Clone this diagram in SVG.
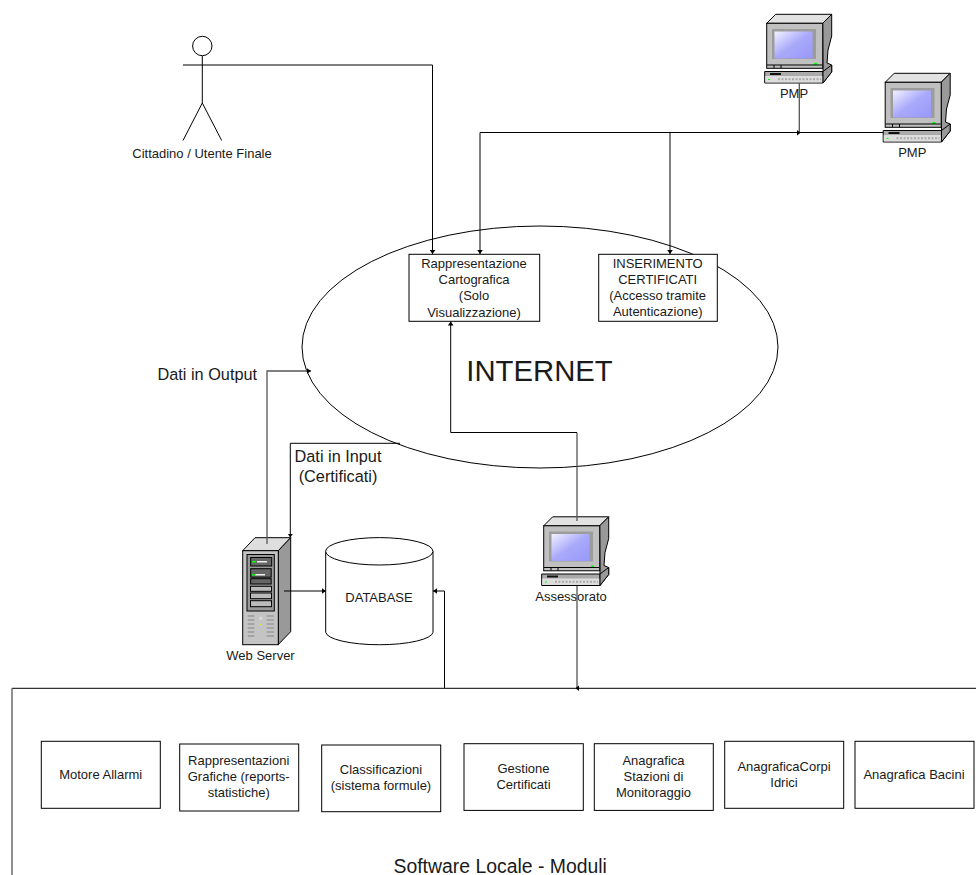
<svg xmlns="http://www.w3.org/2000/svg" width="976" height="875" viewBox="0 0 976 875">
<style>
text{font-family:"Liberation Sans",Arial,sans-serif;fill:#1a1a1a;text-anchor:middle}
.s{font-size:13px}
.m{font-size:16.3px}
.box{fill:#fff;stroke:#000;stroke-width:1}
.c{fill:none;stroke:#000;stroke-width:1}
.g{fill:none;stroke:#555;stroke-width:1.300}
.k{stroke:#000;stroke-width:1}
</style>
<defs>
<marker id="a" markerWidth="6" markerHeight="6" refX="4" refY="3" orient="auto" markerUnits="userSpaceOnUse"><path d="M0 .2L4 3L0 5.800Z" fill="#000"/></marker>
<linearGradient id="scr" x1="0" y1="0" x2="1" y2="1"><stop offset="0" stop-color="#f2f2ff"/><stop offset=".5" stop-color="#a9a9fb"/><stop offset="1" stop-color="#9898fa"/></linearGradient>
<g id="pc">
<path class="k" fill="#e2e2e2" d="M2.7 9.300L11.700 .3H67.700L58.700 9.300Z"/>
<path class="k" fill="#999" d="M58.700 9.300L67.700 .3V22L64 36L63 49L67.700 51V58L59 69V54L58.700 9.300Z"/>
<rect class="k" fill="#c0c0c0" x="2.700" y="9.300" width="56" height="45"/>
<rect x="8" y="15" width="44" height="30" fill="#9c9c9c"/>
<rect x="10.500" y="17.500" width="38" height="27" fill="url(#scr)"/>
<rect x="50" y="49" width="3" height="2" fill="#0f0"/>
<path class="k" fill="none" d="M10 51V54M17 51V54M3 51H58"/>
<path class="k" fill="#aaa" d="M.7 57.500H59V69L.7 69Z"/>
<path class="k" fill="#999" d="M59 57.500L67.700 51V58L59 69Z"/>
<rect x="1.200" y="62" width="57" height="6.500" fill="#ddd"/>
<rect x="6" y="59" width="11" height="2" fill="#111"/>
<rect x="4" y="65" width="2" height="1" fill="#0f0"/>
<path d="M14 65.200H57" stroke="#aaa" stroke-width="2" stroke-dasharray="2 1.500"/>
</g>
</defs>

<g id="internet"><ellipse class="box" cx="540" cy="347" rx="238" ry="121"/><text x="539.500" y="381" font-size="29.300">INTERNET</text></g>

<g id="cittadino">
<circle class="c" cx="202.300" cy="46" r="9.700"/>
<path class="c" d="M202.300 56V103L183 140.500M202.300 103L221.700 140.500"/>
<text class="s" x="202" y="158">Cittadino / Utente Finale</text>
</g>

<g id="pmp1"><use href="#pc" x="764" y="14"/><text class="s" x="794" y="98">PMP</text></g>
<g id="pmp2"><use href="#pc" x="882.500" y="73"/><text class="s" x="912.300" y="157">PMP</text></g>
<g id="assessorato"><use href="#pc" x="541" y="516.500"/><text class="s" x="571" y="601">Assessorato</text></g>

<g id="webserver">
<path class="k" fill="#dedede" d="M242.700 550.700L255 537.700H290.700L278.300 550.700Z"/>
<path class="k" fill="#999" d="M278.300 550.700L290.700 537.700V631.700L278.300 644.500Z"/>
<rect class="k" fill="#c4c4c4" x="242.700" y="550.700" width="35.600" height="94"/>
<rect class="k" fill="#999" x="247" y="554.500" width="27.300" height="56.500"/>
<rect class="k" fill="#666" x="250.700" y="557.500" width="21" height="8.500"/>
<rect class="k" fill="#666" x="250.700" y="568.700" width="20.500" height="8.500"/>
<rect class="k" fill="#666" x="250.700" y="578.700" width="20.500" height="5.300"/>
<rect class="k" fill="#bbb" x="250.500" y="586.300" width="21" height="5"/>
<rect class="k" fill="#bbb" x="250.500" y="593" width="21" height="5.700"/>
<rect class="k" fill="#bbb" x="250.500" y="600.700" width="21" height="6"/>
<rect x="252" y="561" width="4" height="1.500" fill="#0f0"/>
<rect x="252" y="574" width="3" height="1.500" fill="#0f0"/>
<rect x="257" y="561" width="10" height="1.500" fill="#eee"/>
<rect x="255" y="574" width="10" height="1.500" fill="#eee"/>
<path d="M247.700 616H254.300M266.700 616H274M247.700 620H254.300M266.700 620H274M247.700 624H254.300M266.700 624H274M247.700 628H254.300M266.700 628H274M247.700 632H254.300M266.700 632H274M247.700 636H254.300M266.700 636H274" stroke="#999" stroke-width="1.500"/>
<circle cx="260.700" cy="618.300" r="1.500" fill="#ddd"/>
<rect x="260" y="624" width="1.500" height="1" fill="#ee0"/>
<text class="s" x="260.500" y="660">Web Server</text>
</g>

<g id="connectors">
<path class="c" d="M183 65H432.500V254" marker-end="url(#a)"/>
<path class="c" d="M883 132.500H480V254" marker-end="url(#a)"/>
<path class="c" d="M670 132.500V254" marker-end="url(#a)"/>
<path class="g" d="M799.300 83V132.500"/>
<path d="M797 130V135.500L800.500 132.700Z" fill="#000"/>
<path class="g" d="M267 544V371H311" marker-end="url(#a)"/>
<path class="c" d="M400 443.300H290.300V537.500" marker-end="url(#a)"/>
<path class="g" d="M577 521V432.500"/>
<path class="c" d="M577 432.500H450.700V321.500" marker-end="url(#a)"/>
<path class="g" d="M577 586V688"/>
<path d="M579 685.500V691L575.500 688.300Z" fill="#000"/>
<path class="c" d="M284 591H326" marker-end="url(#a)"/>
<path class="c" d="M444.500 688V591H433" marker-end="url(#a)"/>
</g>

<g id="rappresentazione"><rect class="box" x="409" y="254.300" width="130.700" height="67"/>
<text class="s"><tspan x="474" y="268">Rappresentazione</tspan><tspan x="474" y="284">Cartografica</tspan><tspan x="474" y="300">(Solo</tspan><tspan x="474" y="316.500">Visualizzazione)</tspan></text></g>
<g id="inserimento"><rect class="box" x="598.700" y="254.300" width="118.600" height="67"/>
<text class="s"><tspan x="657.700" y="268">INSERIMENTO</tspan><tspan x="657.700" y="284">CERTIFICATI</tspan><tspan x="657.700" y="300">(Accesso tramite</tspan><tspan x="657.700" y="316">Autenticazione)</tspan></text></g>

<text class="m" x="207.300" y="380">Dati in Output</text>
<text class="m"><tspan x="338" y="461.500">Dati in Input</tspan><tspan x="338" y="481.500">(Certificati)</tspan></text>

<g id="database">
<path class="box" d="M325.700 551.300V632.300A53.700 13 0 0 0 433 632.300V551.300"/>
<ellipse class="box" cx="379.300" cy="551.300" rx="53.700" ry="13.700"/>
<text class="s" x="379" y="601.500">DATABASE</text>
</g>

<g id="software"><path class="c" d="M976 688.300H12"/><path class="g" d="M12 688.300V875"/>
<text x="500.200" y="873" font-size="19.400">Software Locale - Moduli</text></g>

<g id="m1"><rect class="box" x="41.300" y="741.300" width="119" height="67"/><text class="s" x="100.700" y="779">Motore Allarmi</text></g>
<g id="m2"><rect class="box" x="179.700" y="744" width="119" height="67"/><text class="s"><tspan x="238.700" y="765">Rappresentazioni</tspan><tspan x="238.700" y="781">Grafiche (reports-</tspan><tspan x="238.700" y="797">statistiche)</tspan></text></g>
<g id="m3"><rect class="box" x="321.700" y="745" width="119" height="66.700"/><text class="s"><tspan x="381" y="773.500">Classificazioni</tspan><tspan x="381" y="789.500">(sistema formule)</tspan></text></g>
<g id="m4"><rect class="box" x="464" y="743.700" width="119.300" height="66.700"/><text class="s"><tspan x="523.500" y="773">Gestione</tspan><tspan x="523.500" y="789">Certificati</tspan></text></g>
<g id="m5"><rect class="box" x="594.300" y="743.700" width="119" height="66.700"/><text class="s"><tspan x="653.500" y="765">Anagrafica</tspan><tspan x="653.500" y="781">Stazioni di</tspan><tspan x="653.500" y="797">Monitoraggio</tspan></text></g>
<g id="m6"><rect class="box" x="724.700" y="741.300" width="119" height="67"/><text class="s"><tspan x="784" y="771">AnagraficaCorpi</tspan><tspan x="784" y="787">Idrici</tspan></text></g>
<g id="m7"><rect class="box" x="855" y="741.300" width="119" height="67"/><text class="s" x="914" y="779">Anagrafica Bacini</text></g>
</svg>
